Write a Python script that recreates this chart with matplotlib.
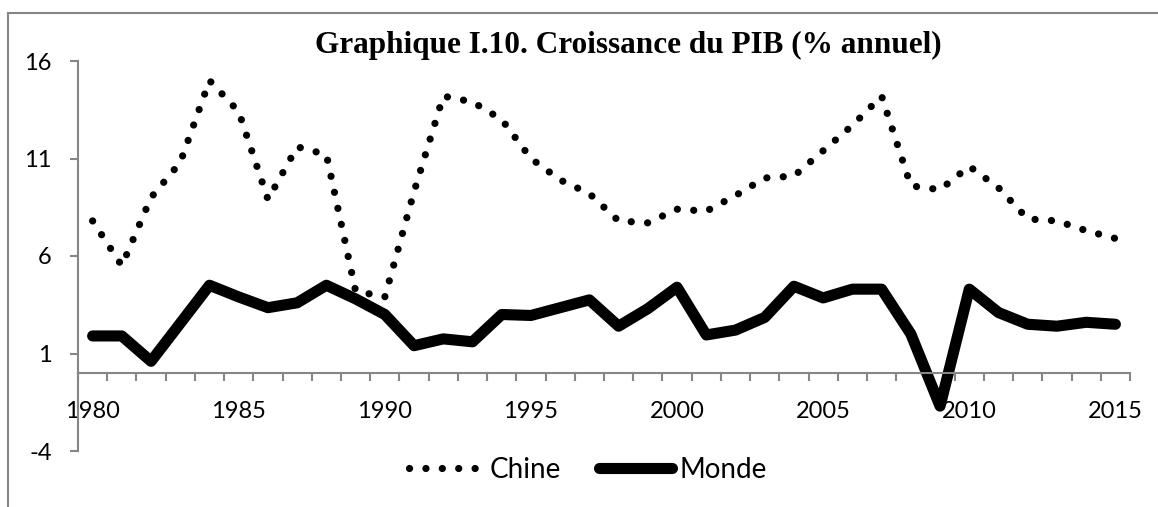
import numpy as np
import matplotlib
matplotlib.use('Agg')
import matplotlib.pyplot as plt
from matplotlib.lines import Line2D

# ---- data ----
years = list(range(1980, 2016))
chine = [7.8, 5.5, 9.0, 10.8, 15.0, 13.4, 8.9, 11.6, 11.2, 4.2,
         3.9, 9.3, 14.2, 13.9, 13.0, 11.0, 9.9, 9.2, 7.8, 7.7,
         8.4, 8.3, 9.1, 10.0, 10.1, 11.4, 12.7, 14.2, 9.6, 9.4,
         10.6, 9.5, 7.9, 7.8, 7.3, 6.9]
monde = [1.9, 1.9, 0.6, 2.55, 4.5, 3.9, 3.35, 3.6, 4.5, 3.8,
         3.0, 1.4, 1.75, 1.6, 3.0, 2.95, 3.35, 3.75, 2.4, 3.3,
         4.4, 1.95, 2.2, 2.85, 4.45, 3.85, 4.3, 4.3, 2.0, -1.7,
         4.3, 3.1, 2.5, 2.4, 2.6, 2.5]
ytick_vals = [-4, 1, 6, 11, 16]
xlabel_years = [1980, 1985, 1990, 1995, 2000, 2005, 2010, 2015]

TITLE = 'Graphique I.10. Croissance du PIB (% annuel)'
GREY = '#868686'
W, H = 1158, 507

fig = plt.figure(figsize=(W / 100, H / 100), dpi=100)
ax = fig.add_axes([78 / W, 1 - 451 / H, (1130 - 78) / W, (451 - 61) / H])

ax.plot(years, chine, color='black', lw=5.2, linestyle=(0, (0.01, 2.26)),
        dash_capstyle='round', label='Chine')
ax.plot(years, monde, color='black', lw=8, solid_capstyle='round',
        solid_joinstyle='round', label='Monde')

ax.set_xlim(1979.5, 2015.5)
ax.set_ylim(-4, 16)

# spines
for s in ('top', 'right'):
    ax.spines[s].set_visible(False)
ax.spines['bottom'].set_position(('data', 0))
for s in ('left', 'bottom'):
    ax.spines[s].set_color(GREY)
    ax.spines[s].set_linewidth(1.5)

# y axis
ax.set_yticks(ytick_vals)
ax.set_yticklabels([str(v) for v in ytick_vals])
ax.tick_params(axis='y', direction='out', length=6, width=1.5, color=GREY,
               pad=13, labelsize=17)

# x axis: category boundary ticks, labels every 5 years
ax.set_xticks(np.arange(1979.5, 2016, 1.0), minor=True)
ax.set_xticks(xlabel_years)
ax.set_xticklabels([str(y) for y in xlabel_years])
ax.tick_params(axis='x', which='minor', direction='out', length=6,
               width=1.5, color=GREY)
ax.tick_params(axis='x', which='major', length=0, pad=20, labelsize=17)

for lab in ax.get_xticklabels() + ax.get_yticklabels():
    lab.set_family('Lato')

# title
fig.text(628 / W, 1 - 53 / H, TITLE, ha='center', va='baseline',
         family='Liberation Serif', weight='bold', fontsize=22.5)

# legend
fig.legend(loc='center', bbox_to_anchor=(588 / W, 1 - 470 / H), ncol=2,
           frameon=False, prop={'family': 'Lato', 'size': 20},
           handlelength=2.6, handletextpad=0.3, columnspacing=1.4)

# outer chart border (top and left visible)
fig.add_artist(Line2D([8 / W, 1], [1 - 13 / H, 1 - 13 / H],
                      transform=fig.transFigure, color=GREY, lw=1.5))
fig.add_artist(Line2D([8 / W, 8 / W], [0, 1 - 13 / H],
                      transform=fig.transFigure, color=GREY, lw=1.5))

fig.savefig('out.png', dpi=100)
